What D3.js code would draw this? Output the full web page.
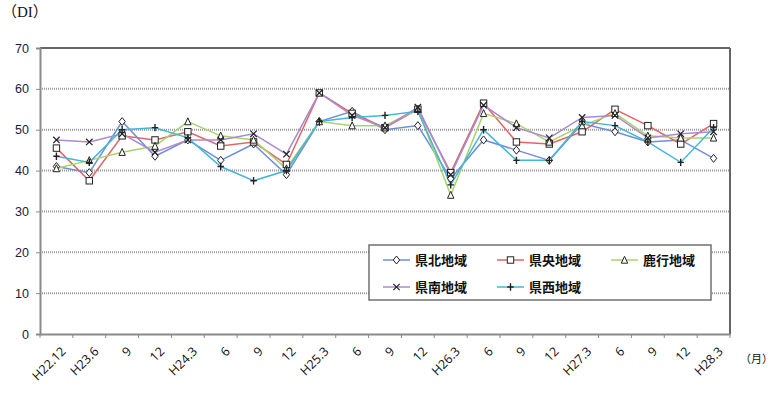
<!DOCTYPE html>
<html>
<head>
<meta charset="utf-8">
<script src="https://cdn.jsdelivr.net/npm/d3@7"></script>
<style>
  body { margin: 0; background: #fff; }
  svg { display: block; }
</style>
</head>
<body>
<script>
var width = 775;
var height = 395;
var margin = { top: 48, bottom: 61, right: 45, left: 40 };

// x軸の区分
var categories = ["H22.12", "H23.6", "9", "12", "H24.3", "6", "9", "12", "H25.3", "6", "9", "12",
  "H26.3", "6", "9", "12", "H27.3", "6", "9", "12", "H28.3"];
var yTicks = [0, 10, 20, 30, 40, 50, 60, 70];

// 地域別DI
var kenpoku = [41, 39.5, 52, 43.5, 47.5, 42.5, 46.5, 39, 52, 54.5, 50, 51, 38, 47.5, 45, 42.5, 51.5, 49.5, 47, 47.5, 43];
var kenou = [45.5, 37.5, 48.5, 47.5, 49.5, 46, 47, 41.5, 59, 54, 50.5, 55, 39.5, 56.5, 47, 46.5, 49.5, 55, 51, 46.5, 51.5];
var rokko = [40.5, 42.5, 44.5, 46, 52, 48.5, 47.5, 40.5, 52, 51, 51, 55, 34, 54, 51.5, 47, 51, 54, 48.5, 48, 48];
var kennan = [47.5, 47, 49, 44.5, 47.5, 47.5, 49, 44, 59, 53.5, 50.5, 55.5, 39, 56, 50.5, 48, 53, 53.5, 48, 49, 49.5];
var kensei = [43.5, 42, 50, 50.5, 48, 41, 37.5, 40, 52, 53, 53.5, 54.5, 36.5, 50, 42.5, 42.5, 52, 51, 47, 42, 50.5];

var series = [
  { name: "県北地域", values: kenpoku, color: "#6f8fd6", marker: "diamond" },
  { name: "県央地域", values: kenou, color: "#e06666", marker: "square" },
  { name: "鹿行地域", values: rokko, color: "#a9d36b", marker: "triangle" },
  { name: "県南地域", values: kennan, color: "#a98bd0", marker: "cross" },
  { name: "県西地域", values: kensei, color: "#45b7d6", marker: "plus" }
];

var svg = d3.select("body").append("svg")
  .attr("width", width)
  .attr("height", height);

var xScale = d3.scaleBand()
  .domain(d3.range(categories.length))
  .range([margin.left, width - margin.right]);

var yScale = d3.scaleLinear()
  .domain([0, 70])
  .range([height - margin.bottom, margin.top]);

// グリッド線
svg.append("g")
  .selectAll("line")
  .data(yTicks.slice(1, -1))
  .join("line")
  .attr("x1", margin.left)
  .attr("x2", width - margin.right)
  .attr("y1", function (d) { return yScale(d); })
  .attr("y2", function (d) { return yScale(d); })
  .attr("stroke", "#9a9a9a")
  .attr("stroke-width", 2)
  .attr("stroke-dasharray", "1,1");

// 上端・右端の枠
svg.append("line")
  .attr("x1", margin.left).attr("x2", width - margin.right)
  .attr("y1", yScale(70)).attr("y2", yScale(70))
  .attr("stroke", "#666").attr("stroke-width", 2);
svg.append("line")
  .attr("x1", width - margin.right).attr("x2", width - margin.right)
  .attr("y1", yScale(70)).attr("y2", yScale(0))
  .attr("stroke", "#666").attr("stroke-width", 2);

// y軸
var axisy = d3.axisLeft(yScale).tickValues(yTicks).tickSize(4).tickPadding(7);
var gy = svg.append("g")
  .attr("transform", "translate(" + margin.left + ",0)")
  .call(axisy);
gy.select(".domain").attr("stroke", "#8a8a8a").attr("stroke-width", 2);
gy.selectAll(".tick line").attr("stroke", "#8a8a8a");
gy.selectAll(".tick text")
  .attr("font-family", "Liberation Sans, Arial, sans-serif")
  .attr("font-size", "12.5px")
  .attr("fill", "#1a1a40");

// x軸
var axisx = d3.axisBottom(xScale).tickSize(0).tickFormat(function (i) { return categories[i]; });
var gx = svg.append("g")
  .attr("transform", "translate(0," + yScale(0) + ")")
  .call(axisx);
gx.select(".domain").attr("stroke", "#8a8a8a").attr("stroke-width", 2);
gx.selectAll(".tick text")
  .attr("font-family", "Open Sans, Liberation Sans, sans-serif")
  .attr("font-size", "12.5px")
  .attr("fill", "#111")
  .attr("text-anchor", "end")
  .attr("dy", "0.35em")
  .attr("transform", "translate(5,13) rotate(-45)");

// 区切り目盛
svg.append("g")
  .selectAll("line")
  .data(d3.range(categories.length + 1))
  .join("line")
  .attr("x1", function (i) { return margin.left + i * xScale.step(); })
  .attr("x2", function (i) { return margin.left + i * xScale.step(); })
  .attr("y1", yScale(0))
  .attr("y2", yScale(0) + 4)
  .attr("stroke", "#8a8a8a");

var cx = function (d, i) { return xScale(i) + xScale.bandwidth() / 2; };

var line = d3.line()
  .x(function (d, i) { return cx(d, i); })
  .y(function (d) { return yScale(d); });

series.forEach(function (s) {
  svg.append("path")
    .datum(s.values)
    .attr("fill", "none")
    .attr("stroke", s.color)
    .attr("stroke-width", 1.5)
    .attr("d", line);
});

function drawMarker(g, type, x, y) {
  var r = 3.2;
  if (type === "diamond") {
    g.append("path")
      .attr("d", "M" + x + "," + (y - r - 0.8) + "L" + (x + r) + "," + y + "L" + x + "," + (y + r + 0.8) + "L" + (x - r) + "," + y + "Z")
      .attr("fill", "#fff").attr("stroke", "#222").attr("stroke-width", 1);
  } else if (type === "square") {
    g.append("rect")
      .attr("x", x - r).attr("y", y - r).attr("width", 2 * r).attr("height", 2 * r)
      .attr("fill", "#fff").attr("stroke", "#222").attr("stroke-width", 1);
  } else if (type === "triangle") {
    g.append("path")
      .attr("d", "M" + x + "," + (y - r - 0.5) + "L" + (x + r) + "," + (y + r) + "L" + (x - r) + "," + (y + r) + "Z")
      .attr("fill", "#fff").attr("stroke", "#222").attr("stroke-width", 1);
  } else if (type === "cross") {
    g.append("path")
      .attr("d", "M" + (x - r) + "," + (y - r) + "L" + (x + r) + "," + (y + r) + "M" + (x + r) + "," + (y - r) + "L" + (x - r) + "," + (y + r))
      .attr("stroke", "#222").attr("stroke-width", 1.2);
  } else {
    g.append("path")
      .attr("d", "M" + (x - r) + "," + y + "L" + (x + r) + "," + y + "M" + x + "," + (y - r - 0.5) + "L" + x + "," + (y + r + 0.5))
      .attr("stroke", "#222").attr("stroke-width", 1.4);
  }
}

series.forEach(function (s) {
  var g = svg.append("g");
  s.values.forEach(function (d, i) {
    drawMarker(g, s.marker, cx(d, i), yScale(d));
  });
});

// 凡例
var legend = svg.append("g").attr("transform", "translate(369,245)");
legend.append("rect")
  .attr("x", 0).attr("y", 0).attr("width", 342).attr("height", 55)
  .attr("fill", "#fff").attr("stroke", "#707070").attr("stroke-width", 1.5);
var legX = [14, 128, 242];
var legY = [15, 42];
series.forEach(function (s, i) {
  var lx = legX[i % 3];
  var ly = legY[Math.floor(i / 3)];
  var lg = legend.append("g");
  lg.append("line")
    .attr("x1", lx).attr("x2", lx + 27)
    .attr("y1", ly).attr("y2", ly)
    .attr("stroke", s.color).attr("stroke-width", 1.5);
  drawMarker(lg, s.marker, lx + 13.5, ly);
  lg.append("text")
    .attr("x", lx + 32).attr("y", ly)
    .attr("dy", "0.36em")
    .attr("font-family", "Noto Sans CJK JP")
    .attr("font-size", "13px")
    .attr("font-weight", "bold")
    .attr("fill", "#111")
    .text(s.name);
});

// 単位
svg.append("text")
  .attr("x", 2).attr("y", 17)
  .attr("font-family", "Liberation Serif, Noto Sans CJK JP, serif")
  .attr("font-size", "15px")
  .attr("fill", "#111")
  .text("（DI）");

svg.append("text")
  .attr("x", 740).attr("y", 363)
  .attr("font-family", "Noto Sans CJK JP")
  .attr("font-size", "11px")
  .attr("fill", "#111")
  .text("（月）");
</script>
</body>
</html>
